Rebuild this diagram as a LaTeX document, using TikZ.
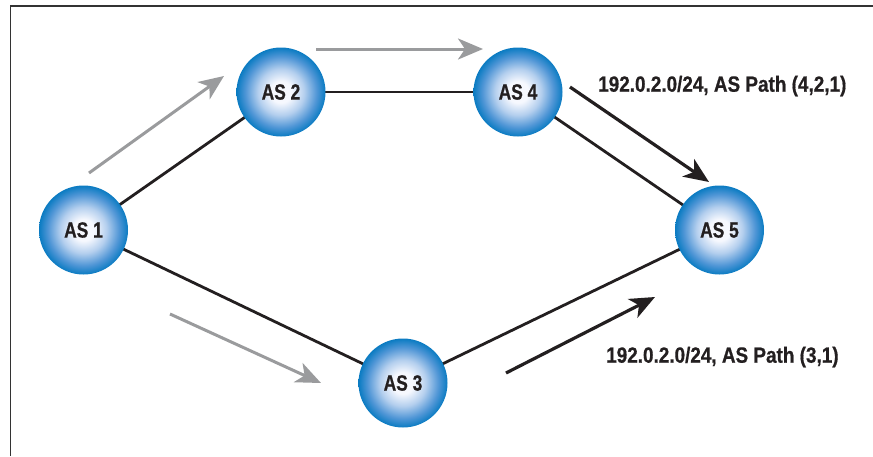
\documentclass[tikz,border=0pt]{standalone}
\usepackage{fontspec}
\setmainfont{Liberation Sans}
\newfontfamily\asfont[FakeStretch=0.79,FakeBold=0.7]{Liberation Sans}
\newfontfamily\lblfont[FakeStretch=0.86,FakeBold=0.6]{Liberation Sans}
\usetikzlibrary{arrows.meta}
\definecolor{edgeblue}{HTML}{0A7BC2}
\definecolor{midblue}{HTML}{5096D6}
\definecolor{lightblue}{HTML}{B4CFEE}
\definecolor{centerwhite}{HTML}{F6F8FE}
\definecolor{arrowgray}{HTML}{9A9B9D}
\definecolor{lineblack}{HTML}{231F20}
\pgfdeclareradialshading{sphere}{\pgfpoint{0bp}{0bp}}{%
  color(0bp)=(centerwhite);
  color(6bp)=(centerwhite);
  color(13bp)=(lightblue);
  color(20bp)=(midblue);
  color(25bp)=(edgeblue);
  color(50bp)=(edgeblue)}
\tikzset{
  asnode/.style={circle, minimum size=89pt, inner sep=0pt, shading=sphere,
    font=\asfont\bfseries\fontsize{22}{24}\selectfont, text=lineblack},
  link/.style={draw=lineblack, line width=2.8pt},
  grayarrow/.style={draw=arrowgray, line width=3pt,
    -{Stealth[length=25pt,width=21pt,inset=7pt]}},
  blackarrow/.style={draw=lineblack, line width=3.2pt,
    -{Stealth[length=25pt,width=21pt,inset=7pt]}},
  lbl/.style={anchor=west, inner sep=0pt,
    font=\lblfont\bfseries\fontsize{22}{24}\selectfont, text=lineblack},
  frameline/.style={draw=black!80, line width=1.6pt}
}
\begin{document}
\begin{tikzpicture}[x=1pt,y=-1pt]
\useasboundingbox (0,0) rectangle (873,456);
\coordinate (ftl) at (10.5,5.8);
\coordinate (ftr) at (873,5.8);
\coordinate (fbl) at (10.5,456);
\draw[frameline] (fbl) -- (ftl) -- (ftr);

\path (83.5,230) coordinate (p1) (281,92) coordinate (p2) (518,92) coordinate (p4)
      (719.5,230) coordinate (p5) (403,383) coordinate (p3);

\draw[link] (p1) -- (p2);
\draw[link] (p2) -- (p4);
\draw[link] (p4) -- (p5);
\draw[link] (p1) -- (p3);
\draw[link] (p3) -- (p5);

\node[asnode] (as1) at (p1) {AS 1};
\node[asnode] (as2) at (p2) {AS 2};
\node[asnode] (as4) at (p4) {AS 4};
\node[asnode] (as5) at (p5) {AS 5};
\node[asnode] (as3) at (p3) {AS 3};

\coordinate (g1s) at (89,173);   \coordinate (g1e) at (224,76);
\coordinate (g2s) at (316,49);   \coordinate (g2e) at (483,49);
\coordinate (g3s) at (170,314);  \coordinate (g3e) at (321,383);
\draw[grayarrow] (g1s) -- (g1e);
\draw[grayarrow] (g2s) -- (g2e);
\draw[grayarrow] (g3s) -- (g3e);

\coordinate (b1s) at (570,87);   \coordinate (b1e) at (709,182);
\coordinate (b2s) at (506,373);  \coordinate (b2e) at (655,297);
\draw[blackarrow] (b1s) -- (b1e);
\draw[blackarrow] (b2s) -- (b2e);

\node[lbl] (l1) at (598,86) {192.0.2.0/24, AS Path (4,2,1)};
\node[lbl] (l2) at (606,357) {192.0.2.0/24, AS Path (3,1)};
\end{tikzpicture}
\end{document}
